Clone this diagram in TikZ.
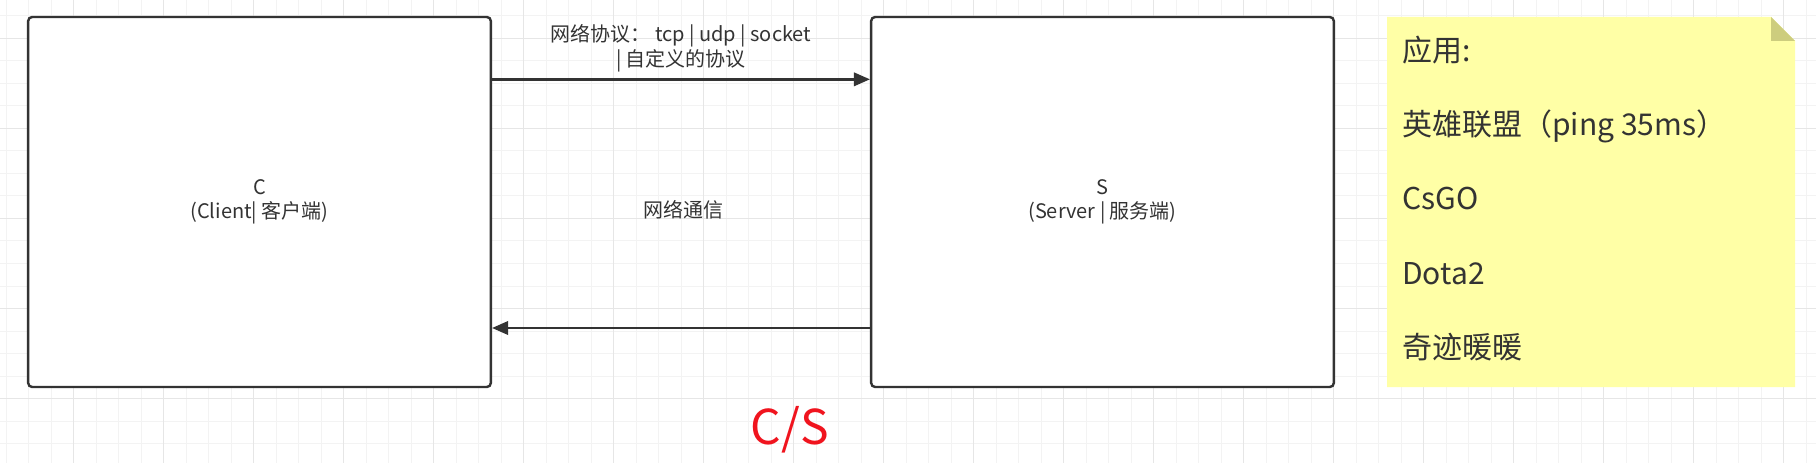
\documentclass[tikz,border=0pt]{standalone}
\usepackage{fontspec}
\newfontfamily\cjk{Noto Sans CJK SC}
\usetikzlibrary{positioning,arrows.meta,calc}
\definecolor{ink}{HTML}{333333}
\definecolor{notefill}{HTML}{FFFFA6}
\definecolor{notefold}{HTML}{CDCD7E}
\definecolor{gridminor}{HTML}{F3F3F3}
\definecolor{gridmajor}{HTML}{E6E6E6}
\definecolor{csred}{HTML}{F0141E}

\begin{document}
\begin{tikzpicture}[x=0.75pt,y=-0.75pt,
    endbox/.style={draw=ink, line width=1.8pt, rounded corners=3pt, fill=white,
        minimum width=347pt, minimum height=277.5pt, align=center,
        font=\cjk\fontsize{15}{18}\selectfont, text=ink},
    link/.style={draw=ink, line width=1.8pt, -{Triangle[length=12pt,width=10pt]}},
    lbl/.style={font=\cjk\fontsize{15}{18.75}\selectfont, text=ink, align=center},
    notetext/.style={font=\cjk\fontsize{22.5}{26}\selectfont, text=ink, anchor=base west, inner sep=0pt}]
    \useasboundingbox (0,0) rectangle (1816,463);
    \fill[white] (0,0) rectangle (1816,463);

    % background grid
    \foreach \i in {0,...,80}
    \draw[gridminor, line width=0.75pt] ({6+22.5*\i},0) -- ({6+22.5*\i},463);
    \foreach \j in {0,...,19}
    \draw[gridminor, line width=0.75pt] (0,{16+22.5*\j}) -- (1816,{16+22.5*\j});
    \foreach \i in {0,...,19}
    \draw[gridmajor, line width=0.75pt] ({73.5+90*\i},0) -- ({73.5+90*\i},463);
    \foreach \j in {0,...,4}
    \draw[gridmajor, line width=0.75pt] (0,{38.5+90*\j}) -- (1816,{38.5+90*\j});

    \node[endbox] (client) at (259.5,202) {C\\(Client| 客户端)};
    \node[endbox] (server) at (1102.5,202) {S\\(Server | 服务端)};

    \draw[link] ([yshift=92pt]client.east) -- node[lbl, yshift=23pt] (proto) {网络协议：\ tcp | udp | socket\\| 自定义的协议} ([yshift=92pt]server.west);
    \draw[link] ([yshift=-94.5pt]server.west) -- ([yshift=-94.5pt]client.east);
    \node[lbl] (comm) at (683,210) {网络通信};

    % sticky note
    \fill[notefill] (1387,17) -- (1771,17) -- (1795,41) -- (1795,387) -- (1387,387) -- cycle;
    \fill[notefold] (1771,17) -- (1771,41) -- (1795,41) -- cycle;
    \foreach \txt [count=\i] in {应用:, 英雄联盟（ping 35ms）, CsGO, Dota2, 奇迹暖暖}
    \node[notetext] (app\i) at (1402,{62+74*(\i-1)}) {\txt};

    \node[font=\cjk\fontsize{36}{40}\selectfont, text=csred] (cs) at (790,430) {C/S};
\end{tikzpicture}
\end{document}
